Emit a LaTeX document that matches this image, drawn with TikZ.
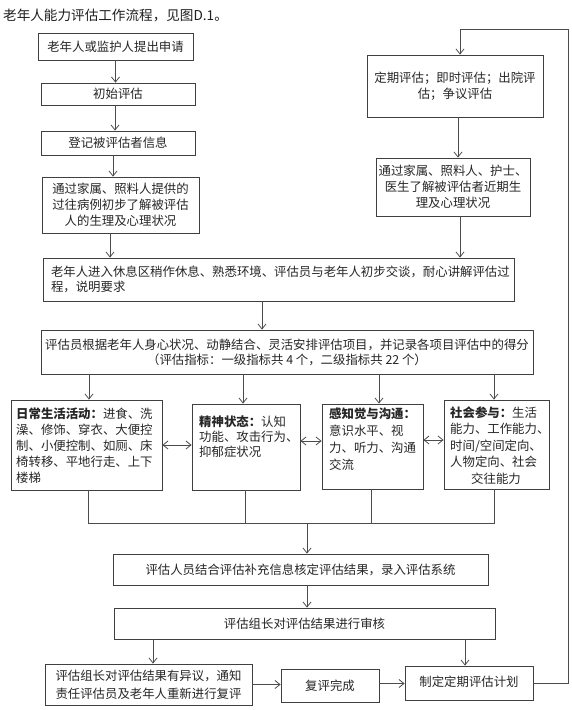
\documentclass[tikz,border=0pt]{standalone}
\usepackage{fontspec}
\setmainfont{Noto Sans CJK SC}
\usetikzlibrary{arrows.meta,calc}
\begin{document}
\begin{tikzpicture}[x=1pt,y=-1pt,
  box/.style={draw=black!75, line width=0.8pt, inner sep=0pt, align=center, text=black!85, font=\fontsize{12.4}{16}\selectfont},
  txt/.style={inner sep=0pt, align=left, text=black!85, anchor=north west},
  ln/.style={draw=black!70, line width=0.8pt},
  arr/.style={ln, -{Straight Barb[length=5pt,width=8pt]}},
  darr/.style={ln, {Straight Barb[length=5pt,width=8pt]}-{Straight Barb[length=5pt,width=8pt]}}
]
\useasboundingbox (0,0) rectangle (572,710);
\fill[white] (0,0) rectangle (572,710);

\node[inner sep=0pt, anchor=west, text=black!88, font=\fontsize{13.6}{15}\selectfont] (title) at (3,15) {老年人能力评估工作流程，见图D.1。};

% left column
\node[box, minimum width=155pt, minimum height=27pt] (n1) at (115.5,46.5) {老年人或监护人提出申请};
\node[box, minimum width=154pt, minimum height=22pt] (n2) at (118,94) {初始评估};
\node[box, minimum width=154pt, minimum height=24pt] (n3) at (118,143) {登记被评估者信息};
\node[box, minimum width=157pt, minimum height=56pt] (n4) at (120.5,205) {通过家属、照料人提供的\\过往病例初步了解被评估\\人的生理及心理状况};

% right column
\node[box, minimum width=176pt, minimum height=62pt] (R1) at (455,86) {定期评估；即时评估；出院评\\估；争议评估};
\node[box, minimum width=154pt, minimum height=58pt] (R2) at (453,187) {通过家属、照料人、护士、\\医生了解被评估者近期生\\理及心理状况};

% wide boxes
\node[box, minimum width=471pt, minimum height=43pt, inner xsep=8pt, text width=455pt, align=left, font=\fontsize{12.4}{15}\selectfont] (n5) at (278.5,279.5) {老年人进入休息区稍作休息、熟悉环境、评估员与老年人初步交谈，耐心讲解评估过\\程，说明要求};
\node[box, minimum width=492pt, minimum height=44pt, font=\fontsize{12.4}{15}\selectfont] (n6) at (287,352) {评估员根据老年人身心状况、动静结合、灵活安排评估项目，并记录各项目评估中的得分\\（评估指标：一级指标共 4 个，二级指标共 22 个）};

% four category boxes
\node[box, minimum width=151pt, minimum height=90pt] (A) at (86.5,445) {};
\node[txt, font=\fontsize{12.4}{16}\selectfont] (At) at (16,408) {\textbf{日常生活活动：}进食、洗\\澡、修饰、穿衣、大便控\\制、小便控制、如厕、床\\椅转移、平地行走、上下\\楼梯};
\node[box, minimum width=108pt, minimum height=86pt] (B) at (246,447) {};
\node[txt, font=\fontsize{12.4}{15}\selectfont] (Bt) at (199,416) {\textbf{精神状态：}认知\\功能、攻击行为、\\抑郁症状况};
\node[box, minimum width=101pt, minimum height=85pt] (C) at (372.5,446.5) {};
\node[txt, font=\fontsize{12.4}{17}\selectfont] (Ct) at (329,408) {\textbf{感知觉与沟通：}\\意识水平、视\\力、听力、沟通\\交流};
\node[box, minimum width=105pt, minimum height=89pt] (D) at (496.5,444.5) {};
\node[txt, font=\fontsize{12.4}{16.5}\selectfont] (Dt) at (450,406) {\textbf{社会参与：}生活\\能力、工作能力、\\时间/空间定向、\\人物定向、社会\\\hspace*{21pt}交往能力};

% lower boxes
\node[box, minimum width=375pt, minimum height=31pt] (E) at (300.5,569.5) {评估人员结合评估补充信息核定评估结果，录入评估系统};
\node[box, minimum width=381pt, minimum height=31pt] (F) at (304.5,623.5) {评估组长对评估结果进行审核};
\node[box, minimum width=207pt, minimum height=41pt, font=\fontsize{12.4}{18}\selectfont] (G) at (148.5,684.5) {评估组长对评估结果有异议，通知\\责任评估员及老年人重新进行复评};
\node[box, minimum width=98pt, minimum height=33pt] (H) at (330,685.5) {复评完成};
\node[box, minimum width=128pt, minimum height=34pt] (I) at (469,683) {\raisebox{4pt}{制定定期评估计划}};

% connectors, left column
\draw[arr] (n1.south) -- (n1.south |- n2.north);
\draw[arr] ([xshift=-3pt]n2.south) -- ([xshift=-3pt]n2.south |- n3.north);
\draw[arr] ([xshift=-5pt]n3.south) -- ([xshift=-5pt]n3.south |- n4.north);
\draw[arr] ([xshift=-10.5pt]n4.south) -- ([xshift=-10.5pt]n4.south |- n5.north);
% right column
\draw[arr] ([xshift=3pt]R1.south) -- ([xshift=3pt]R1.south |- R2.north);
\draw[arr] ([xshift=7pt]R2.south) -- ([xshift=7pt]R2.south |- n5.north);
% middle
\draw[arr] ([xshift=-16.5pt]n5.south) -- ([xshift=-16.5pt]n5.south |- n6.north);
\draw[arr] ([xshift=2.5pt]A.north |- n6.south) -- ([xshift=2.5pt]A.north);
\draw[arr] ([xshift=-3pt]B.north |- n6.south) -- ([xshift=-3pt]B.north);
\draw[arr] ([xshift=6.5pt]C.north |- n6.south) -- ([xshift=6.5pt]C.north);
\draw[arr] ([xshift=-2.5pt]D.north |- n6.south) -- ([xshift=-2.5pt]D.north);
% double arrows
\draw[darr] (A.east) -- (A.east -| B.west);
\draw[darr] ([yshift=6pt]B.east) -- ([yshift=6pt]B.east -| C.west);
\draw[darr] ([yshift=6.5pt]C.east) -- ([yshift=6.5pt]C.east -| D.west);
% merge
\coordinate (jA) at (88,523);
\coordinate (jM) at (307,523);
\draw[ln] ([xshift=1.5pt]A.south) -- ([xshift=1.5pt]A.south |- jA) -- ([xshift=-2.5pt]D.south |- jA) -- ([xshift=-2.5pt]D.south);
\draw[ln] ([xshift=-1pt]B.south) -- ([xshift=-1pt]B.south |- jA);
\draw[ln] ([xshift=-1.5pt]C.south) -- ([xshift=-1.5pt]C.south |- jA);
\draw[arr] (jM) -- (jM |- E.north);
\draw[arr] ([xshift=6.5pt]E.south) -- ([xshift=6.5pt]E.south |- F.north);
\draw[arr] ([xshift=4.5pt]G.north |- F.south) -- ([xshift=4.5pt]G.north);
\draw[arr] ([xshift=-4pt]I.north |- F.south) -- ([xshift=-4pt]I.north);
\draw[arr] (G.east) -- (G.east -| H.west);
\draw[arr] ([yshift=2pt]H.east) -- ([yshift=2pt]H.east -| I.west);
% loop back
\coordinate (lt) at (568,29);
\draw[arr] (I.east) -| (lt) -- ([xshift=5pt]R1.north |- lt) -- ([xshift=5pt]R1.north);
\end{tikzpicture}
\end{document}
